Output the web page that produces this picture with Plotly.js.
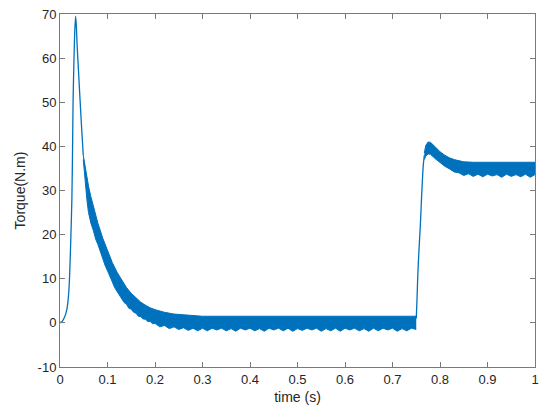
<!DOCTYPE html>
<html>
<head>
<meta charset="utf-8">
<script src="https://cdn.plot.ly/plotly-3.0.1.min.js"></script>
<style>html,body{margin:0;padding:0;background:#fff;}#chart{width:552px;height:416px;}</style>
</head>
<body>
<div id="chart"></div>
<script>
// Start-up transient (single thin line)
var startT = [0, 0.005, 0.01, 0.0125, 0.015, 0.0175, 0.02, 0.023, 0.025, 0.0265, 0.0275, 0.0295, 0.031, 0.033, 0.0345, 0.036, 0.04, 0.044, 0.047, 0.049];
var startV = [0, 0.4, 1.4, 2.2, 3.4, 5.6, 10, 20, 28, 40, 50, 60, 66, 69.5, 67, 63, 55, 47, 41.5, 38];

// Decay + no-load band (upper edge)
var band1UpT = [0.049, 0.053, 0.057, 0.06, 0.065, 0.07, 0.08, 0.09, 0.10, 0.11, 0.12, 0.13, 0.14, 0.15, 0.16, 0.17, 0.18, 0.19, 0.20, 0.22, 0.24, 0.26, 0.28, 0.30, 0.40, 0.50, 0.60, 0.70, 0.75];
var band1UpV = [38, 35.2, 32.8, 31, 28.6, 26.5, 22.5, 19.2, 16.2, 13.7, 11.5, 9.6, 8.0, 6.7, 5.6, 4.7, 4.0, 3.4, 3.0, 2.4, 2.0, 1.8, 1.6, 1.5, 1.5, 1.5, 1.5, 1.5, 1.5];

// Decay + no-load band (lower edge, with ripple dips)
var band1LowT = [0.049, 0.053, 0.057, 0.06, 0.065, 0.07, 0.075, 0.08, 0.085, 0.09, 0.095, 0.10, 0.105, 0.11, 0.115, 0.12, 0.125, 0.13, 0.135, 0.14, 0.145, 0.15, 0.155, 0.16, 0.165, 0.17, 0.175, 0.18, 0.185, 0.19, 0.195, 0.20, 0.21, 0.22, 0.23, 0.24, 0.25, 0.26, 0.27, 0.28, 0.29, 0.30, 0.31, 0.32, 0.33, 0.34, 0.35, 0.36, 0.37, 0.38, 0.39, 0.40, 0.41, 0.42, 0.43, 0.44, 0.45, 0.46, 0.47, 0.48, 0.49, 0.50, 0.51, 0.52, 0.53, 0.54, 0.55, 0.56, 0.57, 0.58, 0.59, 0.60, 0.61, 0.62, 0.63, 0.64, 0.65, 0.66, 0.67, 0.68, 0.69, 0.70, 0.71, 0.72, 0.73, 0.74, 0.75];
var band1LowV = [37, 31.5, 27.5, 25, 22.6, 21, 19.0, 17.7, 16.0, 14.7, 13.0, 11.8, 10.3, 9.3, 8.0, 7.2, 6.1, 5.5, 4.6, 4.2, 3.3, 3.1, 2.4, 2.2, 1.5, 1.4, 0.9, 0.8, 0.3, 0.3, -0.2, -0.1, -0.9, -0.6, -1.3, -0.9, -1.5, -1.1, -1.7, -1.2, -1.8, -1.2, -1.8, -1.2, -1.6, -1.2, -1.8, -1.3, -1.9, -1.2, -1.6, -1.2, -1.8, -1.3, -1.9, -1.2, -1.6, -1.2, -1.8, -1.2, -1.9, -1.3, -1.7, -1.2, -1.6, -1.2, -1.9, -1.3, -1.8, -1.2, -1.9, -1.2, -1.6, -1.2, -1.8, -1.3, -1.9, -1.2, -1.8, -1.2, -1.6, -1.2, -1.9, -1.3, -1.8, -1.2, -1.5];

// Load step rise (single thin line)
var riseT = [0.750, 0.7515, 0.753, 0.755, 0.757, 0.759, 0.761, 0.763, 0.765, 0.767];
var riseV = [1.0, 5, 10, 15, 19, 23, 28, 32.5, 36, 38];

// Loaded band (upper edge)
var band2UpT = [0.767, 0.770, 0.775, 0.780, 0.785, 0.79, 0.80, 0.81, 0.82, 0.83, 0.84, 0.85, 0.87, 0.90, 0.95, 1.0];
var band2UpV = [38.5, 40.2, 41.0, 40.9, 40.4, 39.8, 38.8, 38.0, 37.4, 37.0, 36.7, 36.5, 36.4, 36.4, 36.4, 36.4];

// Loaded band (lower edge, with ripple dips)
var band2LowT = [0.767, 0.77, 0.775, 0.78, 0.79, 0.80, 0.81, 0.82, 0.83, 0.84, 0.85, 0.86, 0.87, 0.88, 0.89, 0.90, 0.91, 0.92, 0.93, 0.94, 0.95, 0.96, 0.97, 0.98, 0.99, 1.00];
var band2LowV = [37, 37.8, 38.3, 38.2, 37.2, 36.3, 35.5, 34.9, 34.2, 34.0, 33.4, 33.8, 33.2, 33.7, 33.1, 33.7, 33.3, 33.6, 33.0, 33.7, 33.2, 33.6, 33.1, 33.7, 33.0, 33.6];

var xTicks = [0, 0.1, 0.2, 0.3, 0.4, 0.5, 0.6, 0.7, 0.8, 0.9, 1];
var yTicks = [-10, 0, 10, 20, 30, 40, 50, 60, 70];

var C = '#0072BD';
function thin(x, y) { return {x: x, y: y, type: 'scatter', mode: 'lines', line: {color: C, width: 1.3, shape: 'spline', smoothing: 0.6}, hoverinfo: 'skip', showlegend: false}; }
function lowEdge(x, y) { return {x: x, y: y, type: 'scatter', mode: 'lines', line: {color: C, width: 1}, hoverinfo: 'skip', showlegend: false}; }
function upEdge(x, y) { return {x: x, y: y, type: 'scatter', mode: 'lines', fill: 'tonexty', fillcolor: C, line: {color: C, width: 1}, hoverinfo: 'skip', showlegend: false}; }

var data = [
  thin(startT, startV),
  lowEdge(band1LowT, band1LowV),
  upEdge(band1UpT, band1UpV),
  thin(riseT, riseV),
  lowEdge(band2LowT, band2LowV),
  upEdge(band2UpT, band2UpV)
];

var axisCommon = {
  showgrid: false, zeroline: false, showline: true, mirror: 'ticks',
  linecolor: '#7a7a7a', linewidth: 1,
  ticks: 'inside', ticklen: 5, tickcolor: '#7a7a7a', tickwidth: 1,
  tickfont: {family: 'Liberation Sans, Arial, sans-serif', size: 13, color: '#262626'}
};

var layout = {
  width: 552, height: 416,
  margin: {l: 60, r: 17, t: 14, b: 49},
  paper_bgcolor: '#ffffff', plot_bgcolor: '#ffffff',
  showlegend: false,
  xaxis: Object.assign({}, axisCommon, {
    range: [0, 1], tickvals: xTicks, ticktext: xTicks.map(String),
    title: {text: 'time (s)', font: {family: 'Liberation Sans, Arial, sans-serif', size: 14, color: '#262626'}, standoff: 6}
  }),
  yaxis: Object.assign({}, axisCommon, {
    range: [-10, 70], tickvals: yTicks, ticktext: yTicks.map(String),
    title: {text: 'Torque(N.m)', font: {family: 'Liberation Sans, Arial, sans-serif', size: 14, color: '#262626'}, standoff: 8}
  })
};

Plotly.newPlot('chart', data, layout, {displayModeBar: false, staticPlot: true});
</script>
</body>
</html>
